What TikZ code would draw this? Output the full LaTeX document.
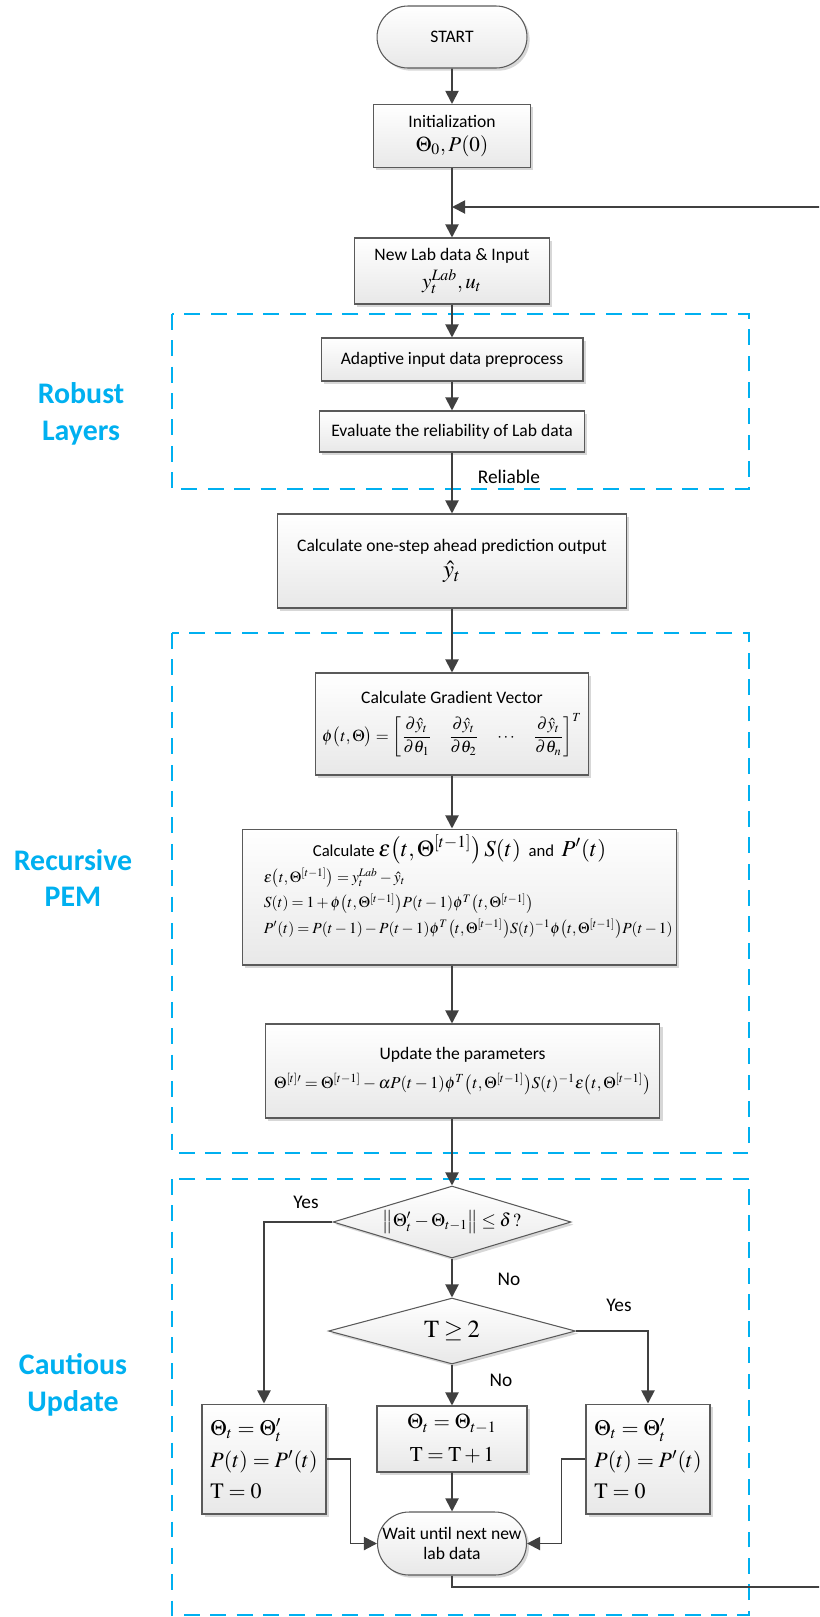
\documentclass[tikz,border=0pt]{standalone}
\usepackage{amsmath}
\usepackage{mathptmx}
\usepackage[no-math]{fontspec}
\setmainfont{Carlito}
\usetikzlibrary{arrows.meta,shapes.geometric,shapes.misc,shadows}

\definecolor{flowgray}{HTML}{404040}
\definecolor{edgegray}{HTML}{5A5A5A}
\definecolor{layerblue}{HTML}{00B0F0}

\newcommand{\txt}{\fontsize{10}{13.5}\selectfont}
\newcommand{\mth}[1]{\fontsize{#1}{#1}\selectfont}
\newcommand{\tight}{\thickmuskip=3.5mu\medmuskip=2.5mu}
\newcommand{\tlag}{\bigl(t,\Theta^{[t-1]}\bigr)}

\begin{document}
\begin{tikzpicture}[x=0.02cm, y=-0.02cm,
  stepbox/.style={draw=edgegray, line width=0.6pt, top color=white, bottom color=black!9,
    drop shadow={shadow xshift=1.5pt, shadow yshift=-1.5pt, fill=black!35, opacity=0.45},
    inner sep=2pt, align=center, font=\txt},
  termbox/.style={stepbox, rounded rectangle},
  decision/.style={stepbox, diamond, aspect=3.3, inner sep=0pt},
  flow/.style={draw=flowgray, line width=1.1pt, -{Triangle[length=7.5pt,width=7.5pt]}},
  layer/.style={draw=layerblue, line width=1.4pt, dash pattern=on 9pt off 6pt},
  layername/.style={text=layerblue, align=center, font=\fontsize{17}{21}\selectfont\bfseries},
  tag/.style={font=\fontsize{11}{13}\selectfont}]
	\useasboundingbox (0,0) rectangle (819,1617);
	\clip (0,0) rectangle (819,1617);

	% layers
	\draw[layer] (172,314) rectangle (749,489);
	\draw[layer] (172,633) rectangle (749,1153);
	\draw[layer] (172,1179) rectangle (749,1615);
	\node[layername] (robust) at (81,414) {Robust\\Layers};
	\node[layername] (pem) at (73,878) {Recursive\\PEM};
	\node[layername] (cautious) at (73,1385) {Cautious\\Update};

	% main column
	\node[termbox, minimum width=3.14cm, minimum height=1.24cm] (start) at (452,37) {START};
	\node[stepbox, minimum width=3.14cm, minimum height=1.26cm] (init) at (452,136)
		{Initialization\\ \mth{12}\(\Theta_0, P(0)\)};
	\node[stepbox, minimum width=3.9cm, minimum height=1.32cm] (newlab) at (452,271)
		{New Lab data \& Input\\[2pt] \mth{12}\(y_t^{Lab}, u_t\)};
	\node[stepbox, minimum width=5.24cm, minimum height=0.86cm] (adapt) at (452,359.5)
		{Adaptive input data preprocess};
	\node[stepbox, minimum width=5.3cm, minimum height=0.82cm] (eval) at (452,431.5)
		{Evaluate the reliability of Lab data};
	\node[tag] (reliable) at (509,477) {Reliable};
	\node[stepbox, minimum width=6.98cm, minimum height=1.88cm] (onestep) at (452,561)
		{Calculate one-step ahead prediction output\\[1pt] \mth{14}\(\hat{y}_t\)};
	\node[stepbox, minimum width=5.46cm, minimum height=2.04cm] (grad) at (452,724)
		{Calculate Gradient Vector\\[5pt] \mth{9.5}\(\displaystyle \phi\bigl(t,\Theta\bigr) = \left[\frac{\partial\hat{y}_t}{\partial\theta_1}\quad \frac{\partial\hat{y}_t}{\partial\theta_2}\quad\cdots\quad\frac{\partial\hat{y}_t}{\partial\theta_n}\right]^T\)};
	\node[stepbox, minimum width=8.42cm, minimum height=2.72cm] (eps) at (459.5,897)
		{\fontsize{8.8}{12}\selectfont\tight
		\begin{tabular}{@{\hspace{10pt}}l@{}}
			\multicolumn{1}{c}{\fontsize{9.5}{12}\selectfont Calculate \mth{13}\(\varepsilon\tlag\,S(t)\)\fontsize{9.5}{12}\selectfont\ \ and\ \ \mth{13}\(P'(t)\)}\\[3pt]
			\(\varepsilon\tlag = y_t^{Lab} - \hat{y}_t\)\\[2.5pt]
			\(S(t) = 1 + \phi\tlag P(t-1)\phi^T\tlag\)\\[2.5pt]
			\(P'(t) = P(t-1) - P(t-1)\phi^T\tlag S(t)^{-1}\phi\tlag P(t-1)\)\\[11pt]
		\end{tabular}};
	\node[stepbox, minimum width=7.9cm, minimum height=1.88cm] (upd) at (462.5,1071)
		{Update the parameters\\[3pt] \mth{9.5}\tight\(\Theta^{[t]\prime} = \Theta^{[t-1]} - \alpha P(t-1)\phi^T\tlag S(t)^{-1}\varepsilon\tlag\)};

	% cautious update
	\node[decision, minimum width=4.76cm, minimum height=1.44cm] (check) at (452,1222)
		{\mth{10.5}\tight\(\bigl\|\Theta'_t - \Theta_{t-1}\bigr\| \le \delta\,?\)};
	\node[decision, minimum width=4.94cm, minimum height=1.32cm] (tcheck) at (452,1331)
		{\mth{14}\tight\(\mathrm{T} \ge 2\)};
	\node[stepbox, minimum width=2.48cm, minimum height=2.2cm, align=left, font=\fontsize{12.5}{18}\selectfont] (keep) at (264,1459)
		{\(\Theta_t = \Theta'_t\)\\ \(P(t) = P'(t)\)\\ \(\mathrm{T} = 0\)};
	\node[stepbox, minimum width=3cm, minimum height=1.32cm, font=\fontsize{12}{18.7}\selectfont] (hold) at (452,1439)
		{\(\Theta_t = \Theta_{t-1}\)\\ \(\mathrm{T} = \mathrm{T} + 1\)};
	\node[stepbox, minimum width=2.48cm, minimum height=2.2cm, align=left, font=\fontsize{12.5}{18}\selectfont] (reset) at (648,1459)
		{\(\Theta_t = \Theta'_t\)\\ \(P(t) = P'(t)\)\\ \(\mathrm{T} = 0\)};
	\node[termbox, minimum width=3.12cm, minimum height=1.26cm, font=\fontsize{10}{11.5}\selectfont] (wait) at (452,1543.5)
		{Wait until next new\\lab data};
	\node[tag] (yes1) at (306,1202) {Yes};
	\node[tag] (no1) at (509,1279) {No};
	\node[tag] (yes2) at (619,1305) {Yes};
	\node[tag] (no2) at (501,1380) {No};

	\coordinate (join) at (452,207);
	\coordinate (loop) at (845,207);

	\draw[flow] (start) -- (init);
	\draw[flow] (init) -- (newlab);
	\draw[flow] (newlab) -- (adapt);
	\draw[flow] (adapt) -- (eval);
	\draw[flow] (eval) -- (onestep);
	\draw[flow] (onestep) -- (grad);
	\draw[flow] (grad) -- (grad |- eps.north);
	\draw[flow] (grad |- eps.south) -- (grad |- upd.north);
	\draw[flow] (grad |- upd.south) -- (check);
	\draw[flow] (check.west) -| (keep);
	\draw[flow] (check) -- (tcheck);
	\draw[flow] (tcheck) -- (hold);
	\draw[flow] (tcheck.east) -| (reset);
	\draw[flow] (hold) -- (wait);
	\draw[flow] (keep.east) -- ++(24,0) |- (wait.west);
	\draw[flow] (reset.west) -- ++(-24,0) |- (wait.east);
	% back to the next sample
	\draw[flow] (wait.south) -- ++(0,11) -| (loop) -- (join);
\end{tikzpicture}
\end{document}
